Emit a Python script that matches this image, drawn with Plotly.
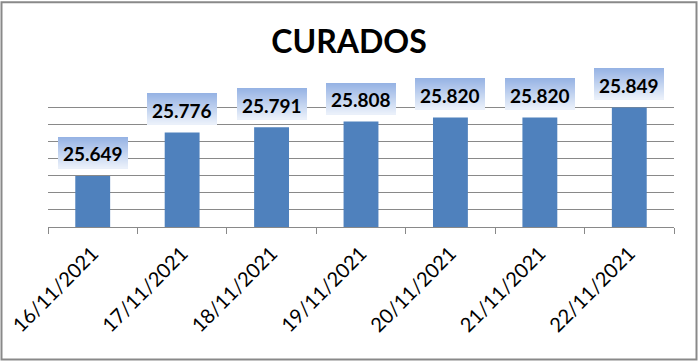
import plotly.graph_objects as go

categories = ["16/11/2021", "17/11/2021", "18/11/2021", "19/11/2021",
              "20/11/2021", "21/11/2021", "22/11/2021"]
values = [25649, 25776, 25791, 25808, 25820, 25820, 25849]
title_text = "CURADOS"
y_min, y_max, y_step = 25500, 25900, 50

W, H = 698, 361
L, R, T, B = 48, 24, 89.5, 134.3
pw, ph = W - L - R, H - T - B

labels = [f"{v:,}".replace(",", ".") for v in values]

fig = go.Figure()
fig.add_trace(go.Bar(x=categories, y=values, marker=dict(color="#4F81BD", line=dict(width=0)),
                     hoverinfo="skip"))

annotations = []
# gradient label boxes built from thin, unclipped annotation strips anchored to bar values
box_w, box_h, gap = 70, 31, 7.5
top_c = (150, 179, 228)
bot_c = (234, 240, 250)
n = 31
for i, v in enumerate(values):
    for k in range(n):
        t = k / (n - 1)
        c = tuple(round(top_c[j] + (bot_c[j] - top_c[j]) * t) for j in range(3))
        ys = gap + box_h - (k + 0.5) * box_h / n
        annotations.append(dict(x=i, y=v, xref="x", yref="y", text=" ", showarrow=False,
                                width=box_w, height=2, borderpad=0, borderwidth=0,
                                bgcolor=f"rgb{c}", yshift=ys, xanchor="center", yanchor="middle",
                                font=dict(size=1)))

for i, (v, lab) in enumerate(zip(values, labels)):
    annotations.append(dict(x=i, y=v, xref="x", yref="y", text=f"<b>{lab}</b>", showarrow=False,
                            yshift=gap + box_h / 2 - 1, xanchor="center", yanchor="middle",
                            font=dict(family="Lato", size=19, color="#000000")))

def px_to_paper_x(px):
    return (px - L) / pw

def px_to_paper_y(py):
    return (H - B - py) / ph

shapes = [dict(type="rect", xref="paper", yref="paper",
               x0=px_to_paper_x(1.5), x1=px_to_paper_x(696.5),
               y0=px_to_paper_y(359.5), y1=px_to_paper_y(1.5),
               line=dict(color="#898989", width=2), fillcolor="rgba(0,0,0,0)", layer="above")]

fig.update_layout(
    width=W, height=H,
    margin=dict(l=L, r=R, t=T, b=B, pad=0, autoexpand=False),
    paper_bgcolor="white", plot_bgcolor="white",
    showlegend=False,
    bargap=0.61,
    title=dict(text=f"<b>{title_text}</b>", x=0.5, xref="container", xanchor="center",
               y=1 - 42 / H, yref="container", yanchor="middle",
               font=dict(family="Lato", size=32, color="#000000")),
    shapes=shapes,
    annotations=annotations,
    xaxis=dict(type="category", showgrid=False, showline=True, linecolor="#898989", linewidth=1,
               ticks="outside", tickson="boundaries", ticklen=6, tickcolor="#898989", tickwidth=1,
               tickangle=-45, ticklabelstandoff=6, automargin=False,
               tickfont=dict(family="Lato", size=20, color="#000000")),
    yaxis=dict(range=[y_min, y_max], dtick=y_step, tick0=y_min, showgrid=True, gridcolor="#898989",
               gridwidth=1, showticklabels=False, zeroline=False, showline=False, ticks="",
               automargin=False),
)

fig.write_html("out.html")
